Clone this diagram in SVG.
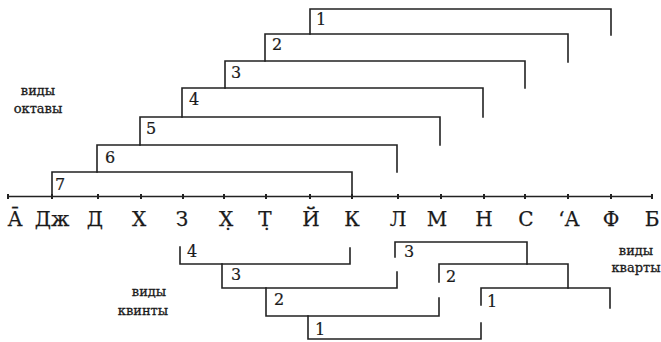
<svg xmlns="http://www.w3.org/2000/svg" width="661" height="342" viewBox="0 0 661 342">
<style>
.br{fill:none;stroke:#222;stroke-width:1.6;stroke-linecap:square}
.ax{fill:none;stroke:#222;stroke-width:1.6}
.tk{stroke:#222;stroke-width:2}
.num{font-family:"DejaVu Serif","Liberation Serif",serif;font-size:16px;fill:#1a1a1a;stroke:#1a1a1a;stroke-width:0.2}
.let{font-family:"DejaVu Serif","Liberation Serif",serif;font-size:20px;fill:#1a1a1a;stroke:#1a1a1a;stroke-width:0.25;text-anchor:middle}
.lab{font-family:"DejaVu Serif","Liberation Serif",serif;font-size:13px;fill:#1a1a1a;stroke:#1a1a1a;stroke-width:0.3;text-anchor:middle}
</style>
<rect width="661" height="342" fill="#fff"/>
<g id="axis">
<path class="ax" d="M8,196.5 H652"/>
<path class="tk" d="M8,194V199M52,194V199M98,194V199M141,194V199M183,194V199M224,194V199M266,194V199M310,194V199M352,194V199M398,194V199M441,194V199M484,194V199M525,194V199M568,194V199M611,194V199M652,194V199"/>
</g>
<g id="letters">
<text class="let" x="15" y="226">А̄</text>
<text class="let" x="52" y="226">Дж</text>
<text class="let" x="95" y="226">Д</text>
<text class="let" x="139" y="226">Х</text>
<text class="let" x="182" y="226">З</text>
<text class="let" x="226" y="226">Х̣</text>
<text class="let" x="265" y="226">Т̣</text>
<text class="let" x="311" y="226">Й</text>
<text class="let" x="352" y="226">К</text>
<text class="let" x="398" y="226">Л</text>
<text class="let" x="437" y="226">М</text>
<text class="let" x="484" y="226">Н</text>
<text class="let" x="526" y="226">С</text>
<text class="let" x="569" y="226">ʻА</text>
<text class="let" x="611" y="226">Ф</text>
<text class="let" x="652" y="226">Б</text>
</g>
<g id="octave-label">
<text class="lab" x="38" y="95">виды</text>
<text class="lab" x="38" y="113">октавы</text>
</g>
<g id="quint-label">
<text class="lab" x="149" y="296">виды</text>
<text class="lab" x="143" y="315">квинты</text>
</g>
<g id="quart-label">
<text class="lab" x="636" y="255">виды</text>
<text class="lab" x="636" y="272">кварты</text>
</g>
<g id="connectors">
<g id="octaves">
<path class="br" d="M310,34 V9 H611 V35"/>
<path class="br" d="M265,61 V34 H568 V62"/>
<path class="br" d="M225,88 V61 H525 V88"/>
<path class="br" d="M182,117 V88 H483 V117"/>
<path class="br" d="M140,145 V117 H440 V145"/>
<path class="br" d="M97,172 V145 H397 V172"/>
<path class="br" d="M52,196 V172 H352 V196"/>
</g>
<g id="quints">
<path class="br" d="M180,247 V264 H350 V248"/>
<path class="br" d="M222,264 V288 H397 V272"/>
<path class="br" d="M266,288 V316 H439 V298"/>
<path class="br" d="M308,316 V339 H481 V323"/>
</g>
<g id="quarts">
<path class="br" d="M395,257 V242 H527 V264"/>
<path class="br" d="M439,282 V264 H568 V288"/>
<path class="br" d="M481,305 V288 H610 V308"/>
</g>
</g>
<g id="octave-numbers">
<text class="num" x="316" y="25">1</text>
<text class="num" x="272" y="50">2</text>
<text class="num" x="231" y="78">3</text>
<text class="num" x="189" y="105">4</text>
<text class="num" x="146" y="134">5</text>
<text class="num" x="105" y="163">6</text>
<text class="num" x="55" y="190">7</text>
</g>
<g id="quint-numbers">
<text class="num" x="187" y="257">4</text>
<text class="num" x="231" y="280">3</text>
<text class="num" x="274" y="305">2</text>
<text class="num" x="315" y="335">1</text>
</g>
<g id="quart-numbers">
<text class="num" x="404" y="257">3</text>
<text class="num" x="446" y="282">2</text>
<text class="num" x="487" y="307">1</text>
</g>
</svg>
